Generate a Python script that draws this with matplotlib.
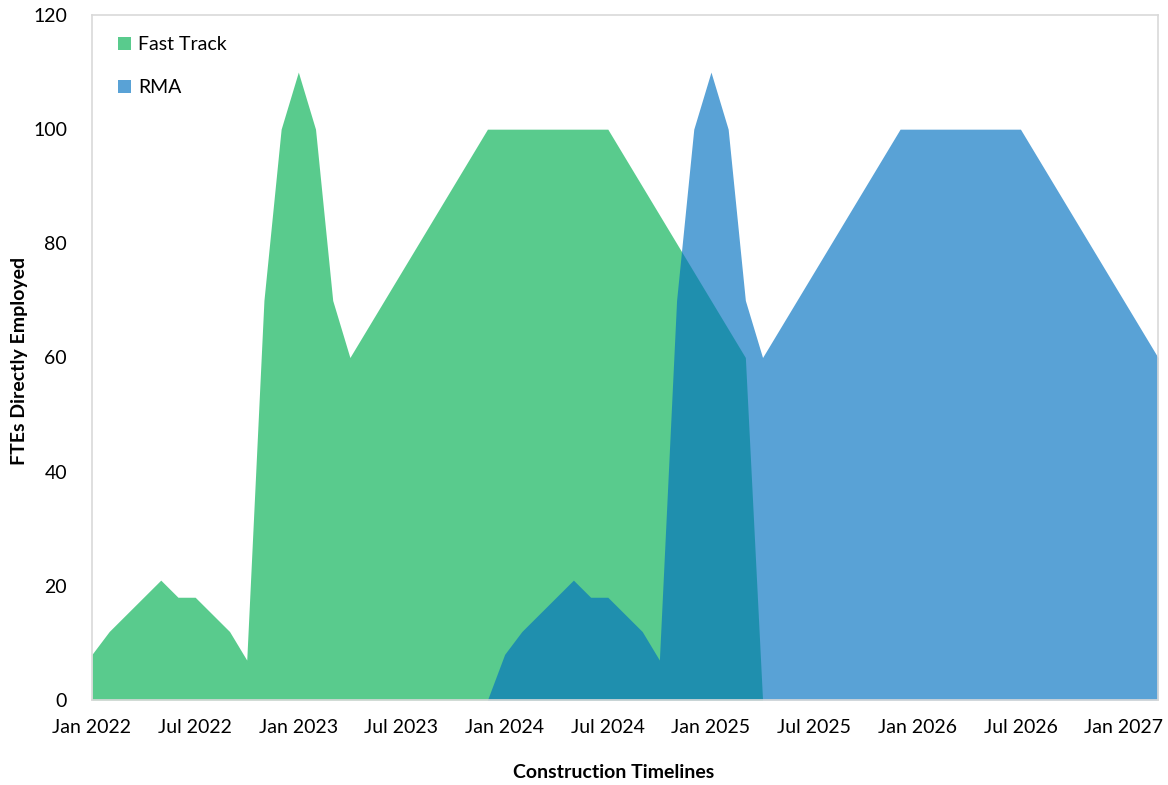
import matplotlib.pyplot as plt
from matplotlib.patches import Patch

plt.rcParams['font.family'] = ['Lato', 'DejaVu Sans']

# monthly FTE counts, Jan 2022 .. Mar 2027
fast_track = [8, 12, 15, 18, 21, 18, 18, 15, 12, 7,
              70, 100, 110, 100, 70, 60, 65, 70, 75, 80,
              85, 90, 95, 100, 100, 100, 100, 100, 100, 100,
              100, 95, 90, 85, 80, 75, 70, 65, 60, 0,
              0, 0, 0, 0, 0, 0, 0, 0, 0, 0,
              0, 0, 0, 0, 0, 0, 0, 0, 0, 0,
              0, 0, 0]
rma = [0, 0, 0, 0, 0, 0, 0, 0, 0, 0,
       0, 0, 0, 0, 0, 0, 0, 0, 0, 0,
       0, 0, 0, 0, 8, 12, 15, 18, 21, 18,
       18, 15, 12, 7, 70, 100, 110, 100, 70, 60,
       65, 70, 75, 80, 85, 90, 95, 100, 100, 100,
       100, 100, 100, 100, 100, 95, 90, 85, 80, 75,
       70, 65, 60]
months = list(range(len(fast_track)))

tick_months = [0, 6, 12, 18, 24, 30, 36, 42, 48, 54, 60]
tick_labels = ["Jan 2022", "Jul 2022", "Jan 2023", "Jul 2023", "Jan 2024", "Jul 2024",
               "Jan 2025", "Jul 2025", "Jan 2026", "Jul 2026", "Jan 2027"]

green = "#00B050"
blue = "#0070C0"
alpha = 0.65

fig = plt.figure(figsize=(11.68, 7.85), dpi=100)
ax = fig.add_axes([92 / 1168, 1 - 700 / 785, 1066 / 1168, 685 / 785])

ax.fill_between(months, fast_track, 0, color=green, alpha=alpha, linewidth=0)
ax.fill_between(months, rma, 0, color=blue, alpha=alpha, linewidth=0)

ax.set_xlim(0, len(months) - 1)
ax.set_ylim(0, 120)
ax.set_yticks(range(0, 121, 20))
ax.set_xticks(tick_months)
ax.set_xticklabels(tick_labels)
ax.tick_params(axis="both", length=0, labelsize=14, colors="black")
ax.tick_params(axis="x", pad=14)
ax.tick_params(axis="y", pad=18)

for side in ax.spines.values():
    side.set_color("#D9D9D9")
    side.set_linewidth(1.2)

handles = [Patch(facecolor=green, alpha=alpha, linewidth=0),
           Patch(facecolor=blue, alpha=alpha, linewidth=0)]
ax.legend(handles, ["Fast Track", "RMA"], loc="upper left", frameon=False,
          fontsize=14, handlelength=0.65, handleheight=0.65, handletextpad=0.4,
          labelspacing=1.35, bbox_to_anchor=(0.008, 0.995))

fig.text(614 / 1168, 1 - 772 / 785, "Construction Timelines", ha="center", va="center",
         fontsize=14, fontweight="bold")
fig.text(20 / 1168, 1 - 361 / 785, "FTEs Directly Employed", ha="center", va="center",
         rotation=90, fontsize=14, fontweight="bold")

fig.savefig("out.png", dpi=100)
